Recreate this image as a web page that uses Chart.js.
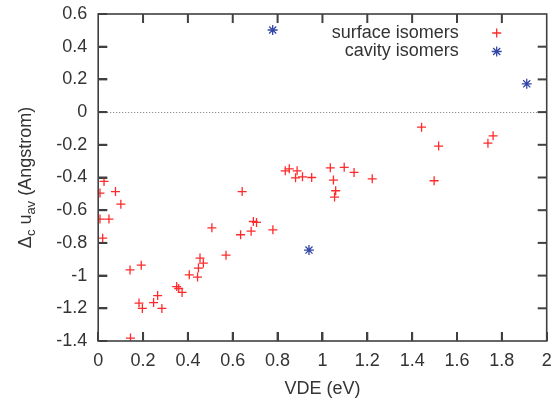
<!DOCTYPE html>
<html>
<head>
<meta charset="utf-8">
<script src="https://cdn.jsdelivr.net/npm/chart.js@4/dist/chart.umd.min.js"></script>
<style>
  html, body { margin: 0; padding: 0; background: #fff; }
  #wrap { width: 553px; height: 398px; }
</style>
</head>
<body>
<div id="wrap"><canvas id="c" width="553" height="398"></canvas></div>
<script>
// ---- data ----
const surfaceX = [0.026, 0.008, 0.077, 0.101, 0.008, 0.048, 0.020, 0.142, 0.192, 0.182,
                  0.197, 0.247, 0.265, 0.284, 0.144, 0.350, 0.359, 0.374, 0.406, 0.443,
                  0.447, 0.454, 0.469, 0.507, 0.570, 0.635, 0.642, 0.682, 0.692, 0.706,
                  0.779, 0.834, 0.852, 0.887, 0.880, 0.911, 0.952, 1.035, 1.049, 1.059,
                  1.054, 1.097, 1.141, 1.222, 1.442, 1.518, 1.498, 1.738, 1.761];
const surfaceY = [-0.424, -0.495, -0.486, -0.563, -0.654, -0.654, -0.771, -0.965, -0.936, -1.168,
                  -1.201, -1.165, -1.122, -1.201, -1.382, -1.067, -1.079, -1.103, -0.995, -1.009,
                  -0.954, -0.893, -0.924, -0.708, -0.875, -0.750, -0.486, -0.728, -0.669, -0.675,
                  -0.720, -0.359, -0.347, -0.359, -0.402, -0.396, -0.400, -0.341, -0.416, -0.481,
                  -0.520, -0.338, -0.369, -0.408, -0.092, -0.208, -0.420, -0.190, -0.145];
const cavityX = [0.778, 0.940, 1.911];
const cavityY = [0.502, -0.844, 0.173];
const seriesLabels = ['surface isomers', 'cavity isomers'];
const xTickValues = [0, 0.2, 0.4, 0.6, 0.8, 1, 1.2, 1.4, 1.6, 1.8, 2];
const yTickValues = [-1.4, -1.2, -1, -0.8, -0.6, -0.4, -0.2, 0, 0.2, 0.4, 0.6];
const xTitle = 'VDE (eV)';
const yTitleParts = [['Δ', false], ['c', true], [' u', false], ['av', true], [' (Angstrom)', false]];

const FONT = "'Liberation Sans', Arial, Helvetica, sans-serif";
const TEXT = '#333333';
const FRAME = '#404040';
const RED = '#ff2a2a';
const BLUE = '#3347a6';

function pts(xs, ys) { return xs.map((x, i) => ({ x: x, y: ys[i] })); }
function fmt(v) { return String(Math.round(v * 10) / 10); }

const framePlugin = {
  id: 'gnuframe',
  beforeDatasetsDraw(chart) {
    const { ctx, chartArea: a, scales } = chart;
    const y0 = scales.y.getPixelForValue(0);
    ctx.save();
    ctx.strokeStyle = '#777';
    ctx.lineWidth = 1;
    ctx.setLineDash([1, 2]);
    ctx.beginPath();
    ctx.moveTo(a.left, Math.round(y0) + 0.5);
    ctx.lineTo(a.right, Math.round(y0) + 0.5);
    ctx.stroke();
    ctx.restore();
  },
  afterDraw(chart) {
    const { ctx, chartArea: a, scales } = chart;
    const xs = scales.x, ys = scales.y;
    ctx.save();
    ctx.setLineDash([]);
    ctx.fillStyle = FRAME;
    const L = 9, W = 2;
    const xp = xTickValues.map(v => xs.getPixelForValue(v));
    const yp = yTickValues.map(v => ys.getPixelForValue(v));
    for (let i = 1; i < xp.length - 1; i++) {
      ctx.fillRect(xp[i] - W / 2, a.bottom - L, W, L);
      ctx.fillRect(xp[i] - W / 2, a.top, W, L);
    }
    for (let i = 1; i < yp.length - 1; i++) {
      ctx.fillRect(a.left, yp[i] - W / 2, L, W);
      ctx.fillRect(a.right - L, yp[i] - W / 2, L, W);
    }
    ctx.strokeStyle = FRAME;
    ctx.lineWidth = 1.6;
    ctx.strokeRect(a.left, a.top, a.right - a.left, a.bottom - a.top);

    // x title
    ctx.font = '18px ' + FONT;
    ctx.fillStyle = TEXT;
    ctx.textAlign = 'center';
    ctx.textBaseline = 'middle';
    ctx.fillText(xTitle, (a.left + a.right) / 2, 389);

    // y title with subscripts
    const big = '18px ' + FONT, small = '13px ' + FONT;
    let total = 0;
    yTitleParts.forEach(([t, sub]) => { ctx.font = sub ? small : big; total += ctx.measureText(t).width; });
    ctx.translate(31, (a.top + a.bottom) / 2);
    ctx.rotate(-Math.PI / 2);
    ctx.textBaseline = 'alphabetic';
    ctx.textAlign = 'left';
    let x = -total / 2;
    yTitleParts.forEach(([t, sub]) => {
      ctx.font = sub ? small : big;
      ctx.fillText(t, x, sub ? 4 : 0);
      x += ctx.measureText(t).width;
    });
    ctx.restore();

    // legend (gnuplot style: right-aligned text, marker to the right)
    ctx.save();
    ctx.font = '18px ' + FONT;
    ctx.fillStyle = TEXT;
    ctx.textAlign = 'right';
    ctx.textBaseline = 'middle';
    chart.data.datasets.forEach((ds, i) => {
      const ly = a.top + 19 + i * 18.5;
      ctx.fillText(ds.label, a.right - 88, ly);
      const mx = a.right - 50;
      ctx.strokeStyle = ds.borderColor;
      ctx.lineWidth = ds.borderWidth;
      const r = ds.pointRadius;
      ctx.beginPath();
      ctx.moveTo(mx - r, ly); ctx.lineTo(mx + r, ly);
      ctx.moveTo(mx, ly - r); ctx.lineTo(mx, ly + r);
      if (ds.pointStyle === 'star') {
        const d = r * Math.SQRT1_2;
        ctx.moveTo(mx - d, ly - d); ctx.lineTo(mx + d, ly + d);
        ctx.moveTo(mx - d, ly + d); ctx.lineTo(mx + d, ly - d);
      }
      ctx.stroke();
    });
    ctx.restore();
  }
};

new Chart(document.getElementById('c'), {
  type: 'scatter',
  data: {
    datasets: [
      { label: seriesLabels[0], data: pts(surfaceX, surfaceY), pointStyle: 'cross',
        pointRadius: 4.5, pointHoverRadius: 4.5, borderColor: RED, backgroundColor: RED, borderWidth: 1.3 },
      { label: seriesLabels[1], data: pts(cavityX, cavityY), pointStyle: 'star',
        pointRadius: 5, pointHoverRadius: 5, borderColor: BLUE, backgroundColor: BLUE, borderWidth: 1.3 }
    ]
  },
  options: {
    responsive: false,
    animation: false,
    devicePixelRatio: 1,
    layout: { padding: { top: 14, right: 0, left: 0, bottom: 0 } },
    plugins: { legend: { display: false }, tooltip: { enabled: false } },
    scales: {
      x: {
        type: 'linear', min: 0, max: 2,
        afterBuildTicks: s => { s.ticks = xTickValues.map(v => ({ value: v })); },
        afterFit: s => { s.height = 57; s.paddingLeft = 0; s.paddingRight = 0; },
        grid: { display: true, drawOnChartArea: false, drawTicks: true, tickLength: -9, color: FRAME, lineWidth: 2 },
        border: { display: false },
        ticks: { color: TEXT, font: { family: FONT, size: 18 }, padding: 18, maxRotation: 0, autoSkip: false,
                 callback: v => fmt(v) }
      },
      y: {
        type: 'linear', min: -1.4, max: 0.6,
        afterBuildTicks: s => { s.ticks = yTickValues.map(v => ({ value: v })); },
        afterFit: s => { s.width = 98.2; s.paddingTop = 0; s.paddingBottom = 0; },
        grid: { display: true, drawOnChartArea: false, drawTicks: true, tickLength: -9, color: FRAME, lineWidth: 2 },
        border: { display: false },
        ticks: { color: TEXT, font: { family: FONT, size: 18 }, padding: 20, autoSkip: false,
                 callback: v => fmt(v) }
      }
    }
  },
  plugins: [framePlugin]
});
</script>
</body>
</html>
